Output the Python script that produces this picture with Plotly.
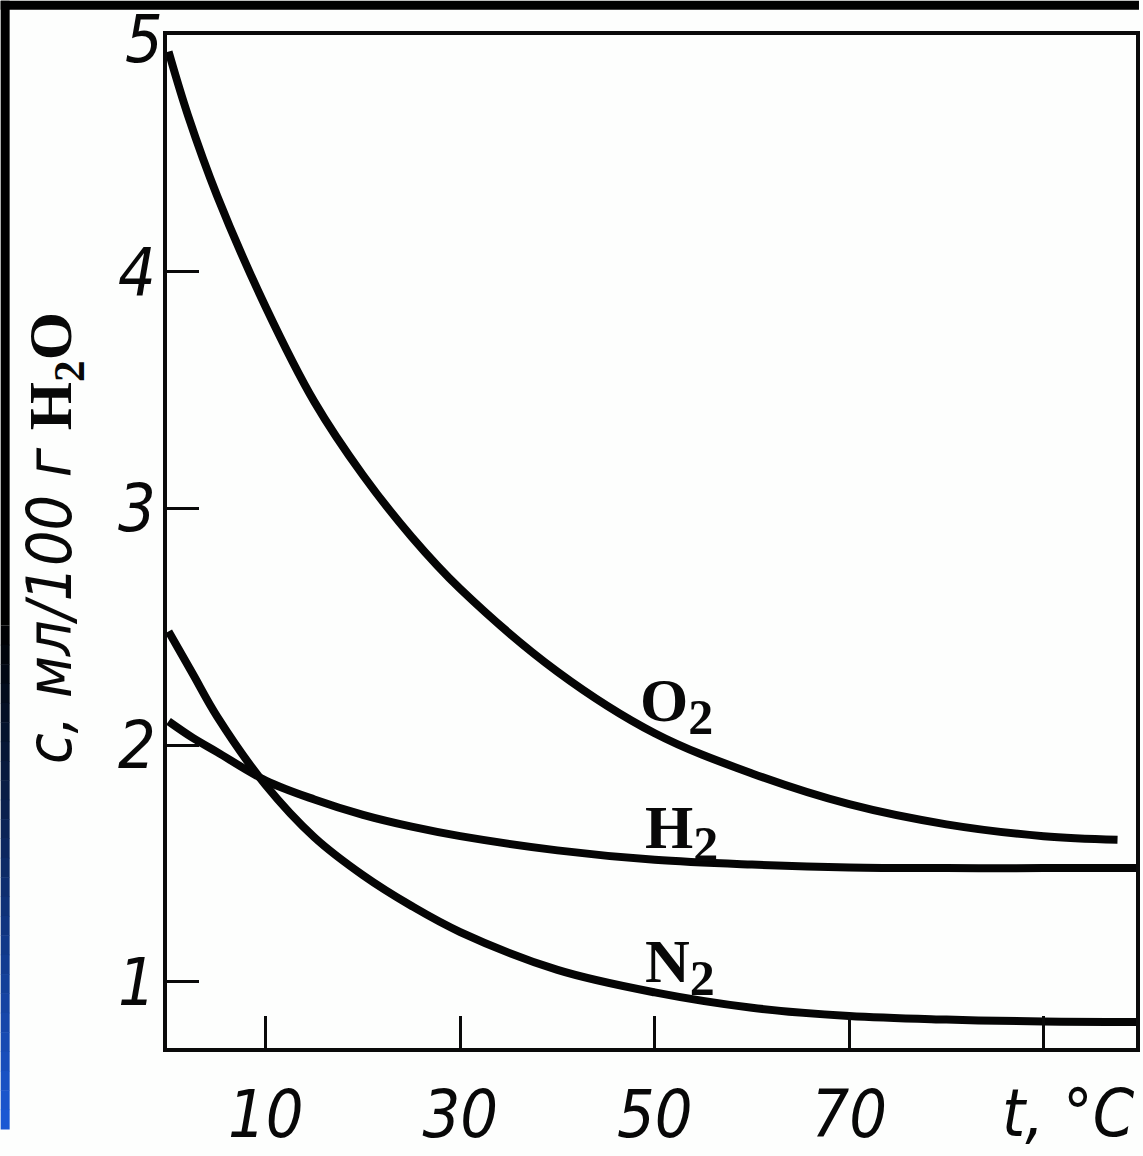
import plotly.graph_objects as go

# ---- data ----
t_o2 = [0, 2, 5, 10, 15, 20, 25, 30, 40, 50, 60, 70, 80, 90, 97.6]
c_o2 = [4.93, 4.66, 4.32, 3.85, 3.45, 3.14, 2.88, 2.66, 2.31, 2.05, 1.88, 1.75, 1.665, 1.615, 1.60]

t_h2 = [0, 2.5, 5, 10, 15, 20, 25, 30, 40, 50, 60, 70, 80, 90, 99.5]
c_h2 = [2.10, 2.03, 1.97, 1.85, 1.77, 1.705, 1.655, 1.615, 1.555, 1.515, 1.495, 1.483, 1.48, 1.48, 1.48]

t_n2 = [0, 2.5, 5, 10, 15, 20, 25, 30, 40, 50, 60, 70, 80, 90, 99.5]
c_n2 = [2.48, 2.30, 2.12, 1.83, 1.61, 1.45, 1.32, 1.21, 1.05, 0.955, 0.89, 0.855, 0.84, 0.832, 0.83]

x_tickvals = [10, 30, 50, 70, 90]
x_ticktext = ["10", "30", "50", "70", ""]
y_tickvals = [1, 2, 3, 4]
y_ticktext = ["1", "2", "3", "4"]
y_top_label = "5"

curve_labels = ["O", "H", "N"]

W, H = 1143, 1156
ML, MR, MT, MB = 167, 3, 35, 83
PW, PH = W - ML - MR, H - MT - MB


def px2x(px):
    return (px - ML) / PW


def py2y(py):
    return (H - MB - py) / PH


NARROW = "Liberation Sans Narrow, DejaVu Sans Condensed, Liberation Sans, Arial"
SERIF = "Liberation Serif, DejaVu Serif, Times New Roman"
TICKFONT = dict(family=NARROW, size=66, color="#080808", style="italic")

fig = go.Figure()
for tx, cy in [(t_o2, c_o2), (t_h2, c_h2), (t_n2, c_n2)]:
    fig.add_trace(go.Scatter(
        x=tx, y=cy, mode="lines",
        line=dict(color="#050505", width=8, shape="spline", smoothing=1.0),
        showlegend=False, hoverinfo="skip"))

axis_common = dict(
    showline=True, linecolor="#0a0a0a", linewidth=4, mirror=True,
    ticks="inside", ticklen=32, tickwidth=3, tickcolor="#0a0a0a",
    showgrid=False, zeroline=False, tickfont=TICKFONT,
)

fig.update_layout(
    width=W, height=H,
    margin=dict(l=ML, r=MR, t=MT, b=MB, pad=0),
    paper_bgcolor="#fdfefd", plot_bgcolor="#fdfefd",
    xaxis=dict(range=[-0.16, 99.5], tickvals=x_tickvals, ticktext=x_ticktext,
               ticklabelstandoff=6, **axis_common),
    yaxis=dict(range=[0.72, 5.0], tickvals=y_tickvals, ticktext=y_ticktext,
               ticklabelstandoff=-6, **axis_common),
)

# top y tick label (sits at the corner of the frame)
fig.add_annotation(xref="paper", yref="paper", x=px2x(144), y=py2y(40),
                   xanchor="center", yanchor="middle", showarrow=False,
                   text="<i>" + y_top_label + "</i>", font=TICKFONT)

# curve labels
label_pos = [(640, 722), (645, 852), (645, 990)]
for txt, (lx, ly) in zip(curve_labels, label_pos):
    fig.add_annotation(
        xref="paper", yref="paper", x=px2x(lx), y=py2y(ly),
        xanchor="left", yanchor="middle", showarrow=False,
        text="<b>" + txt + "<sub><span style=\"font-size:50px\">2</span></sub></b>",
        font=dict(family=SERIF, size=62, color="#080808"))

# axis titles
fig.add_annotation(
    xref="paper", yref="paper", x=px2x(52), y=py2y(550), textangle=-90,
    xanchor="center", yanchor="middle", showarrow=False,
    text="<i>c, мл/100 г</i> <span style=\"font-family:'Liberation Serif'\"><b>H<sub>2</sub>O</b></span>",
    font=dict(family=NARROW, size=62, color="#080808"))
fig.add_annotation(
    xref="paper", yref="paper", x=px2x(1072), y=py2y(1140),
    xanchor="center", yanchor="middle", showarrow=False,
    text="<i>t, °C</i>",
    font=dict(family=NARROW, size=66, color="#080808"))

# dark frame strips (top and left) with blue gradient at lower left
fig.add_shape(type="rect", xref="paper", yref="paper",
              x0=px2x(0), x1=px2x(W), y0=py2y(9), y1=py2y(0),
              fillcolor="#000000", line_width=0, layer="above")
fig.add_shape(type="rect", xref="paper", yref="paper",
              x0=px2x(0), x1=px2x(9), y0=py2y(640), y1=py2y(0),
              fillcolor="#000000", line_width=0, layer="above")
steps = 26
g0, g1 = 640, H
for i in range(steps):
    a = g0 + (g1 - g0) * i / steps
    b = g0 + (g1 - g0) * (i + 1) / steps
    f = (i + 0.5) / steps
    col = "rgb(%d,%d,%d)" % (int(28 * f), int(90 * f), int(216 * f))
    fig.add_shape(type="rect", xref="paper", yref="paper",
                  x0=px2x(0), x1=px2x(9), y0=py2y(b + 0.5), y1=py2y(a),
                  fillcolor=col, line_width=0, layer="above")

fig.write_html("out.html", config={"displayModeBar": False},
               post_script="document.body.style.margin='0';document.body.style.overflow='hidden';")
